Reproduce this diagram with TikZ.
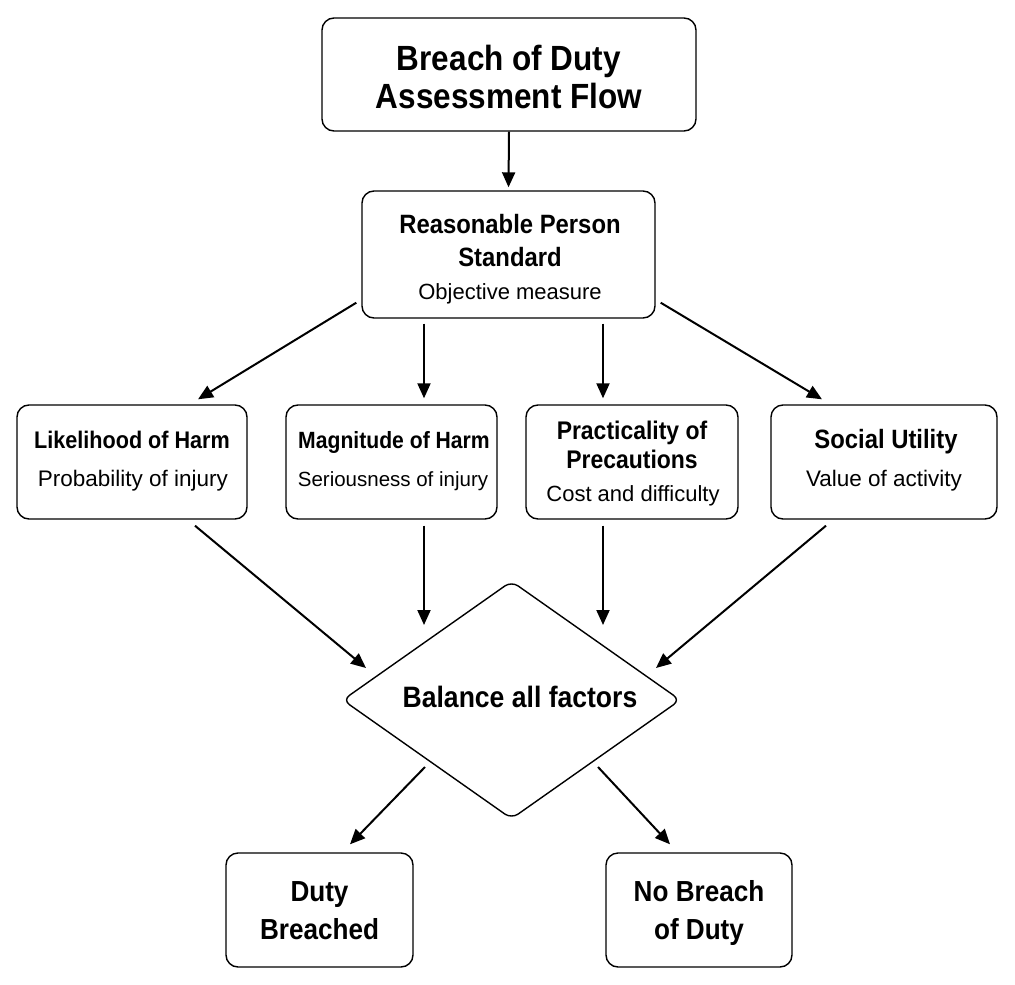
\documentclass[tikz,border=0pt]{standalone}
\usepackage{fontspec}
\setmainfont{Liberation Sans}[BoldFeatures={FakeStretch=0.9}]
\usetikzlibrary{arrows.meta,shapes.geometric}
\newcommand\hdf[1]{\fontsize{#1}{#1}\selectfont\bfseries}
\newcommand\rgf[1]{\fontsize{#1}{#1}\selectfont}
\begin{document}
\begin{tikzpicture}[x=1pt,y=-1pt,
  box/.style={draw, line width=1.4pt, rounded corners=12pt, inner sep=0pt},
  txt/.style={anchor=base, inner sep=0pt},
  arr/.style={line width=2pt, -{Triangle[length=15pt,width=13pt]}},
]
\useasboundingbox[fill=white] (0,0) rectangle (1015,985);
% boxes
\node[box, minimum width=374pt, minimum height=113pt] (title) at (509,74.5) {};
\node[box, minimum width=293pt, minimum height=127pt] (rp) at (508.5,254.5) {};
\node[box, minimum width=230pt, minimum height=114pt] (lik) at (132,462) {};
\node[box, minimum width=211pt, minimum height=114pt] (mag) at (391.5,462) {};
\node[box, minimum width=212pt, minimum height=114pt] (prac) at (632,462) {};
\node[box, minimum width=226pt, minimum height=114pt] (soc) at (884,462) {};
\node[diamond, draw, line width=1.4pt, rounded corners=8pt, minimum width=338pt, minimum height=238pt, inner sep=0pt] (bal) at (511.5,700) {};
\node[box, minimum width=187pt, minimum height=114pt] (duty) at (319.5,910) {};
\node[box, minimum width=186pt, minimum height=114pt] (nob) at (699,910) {};
% texts
\node[txt] (t1) at (509,70) {\hdf{35}Breach of Duty};
\node[txt] (t2) at (509,108) {\hdf{35}Assessment Flow};
\node[txt] (r1) at (510,233) {\hdf{26.5}Reasonable Person};
\node[txt] (r2) at (510,266) {\hdf{26.5}Standard};
\node[txt] (r3) at (510,299) {\rgf{22}Objective measure};
\node[txt] (l1) at (132,448) {\hdf{24}Likelihood of Harm};
\node[txt] (l2) at (133,486) {\rgf{22.5}Probability of injury};
\node[txt] (m1) at (394,448) {\hdf{23.5}Magnitude of Harm};
\node[txt] (m2) at (393,486) {\rgf{20.5}Seriousness of injury};
\node[txt] (p1) at (632,439) {\hdf{25.5}Practicality of};
\node[txt] (p2) at (632,468) {\hdf{25.5}Precautions};
\node[txt] (p3) at (633,501) {\rgf{22}Cost and difficulty};
\node[txt] (s1) at (886,448) {\hdf{26.5}Social Utility};
\node[txt] (s2) at (884,486) {\rgf{22.5}Value of activity};
\node[txt] (b1) at (520,707) {\hdf{29.5}Balance all factors};
\node[txt] (d1) at (319.5,901) {\hdf{29}Duty};
\node[txt] (d2) at (319.5,939) {\hdf{29}Breached};
\node[txt] (n1) at (699,901) {\hdf{29}No Breach};
\node[txt] (n2) at (699,939) {\hdf{29}of Duty};
% arrows
\draw[arr] (title.south) -- ([yshift=3pt]rp.north);
\draw[arr] ([xshift=-5pt,yshift=16pt]rp.south west) -- ([xshift=66pt,yshift=5pt]lik.north);
\draw[arr] ([xshift=-84.5pt,yshift=-5pt]rp.south) -- ([xshift=32.5pt,yshift=6pt]mag.north);
\draw[arr] ([xshift=94.5pt,yshift=-5pt]rp.south) -- ([xshift=-29pt,yshift=6pt]prac.north);
\draw[arr] ([xshift=5pt,yshift=16pt]rp.south east) -- ([xshift=-62pt,yshift=5pt]soc.north);
\draw[arr] ([xshift=63pt,yshift=-6pt]lik.south) -- ([xshift=-145.5pt,yshift=32pt]bal.center);
\draw[arr] ([xshift=32.5pt,yshift=-6pt]mag.south) -- ([xshift=-87.5pt,yshift=75pt]bal.center);
\draw[arr] ([xshift=-29pt,yshift=-6pt]prac.south) -- ([xshift=91.5pt,yshift=75pt]bal.center);
\draw[arr] ([xshift=-58pt,yshift=-6pt]soc.south) -- ([xshift=144.5pt,yshift=32pt]bal.center);
\draw[arr] ([xshift=-86.5pt,yshift=-67pt]bal.center) -- ([xshift=30.5pt,yshift=8pt]duty.north);
\draw[arr] ([xshift=86.5pt,yshift=-67pt]bal.center) -- ([xshift=-29pt,yshift=8pt]nob.north);
\end{tikzpicture}
\end{document}
